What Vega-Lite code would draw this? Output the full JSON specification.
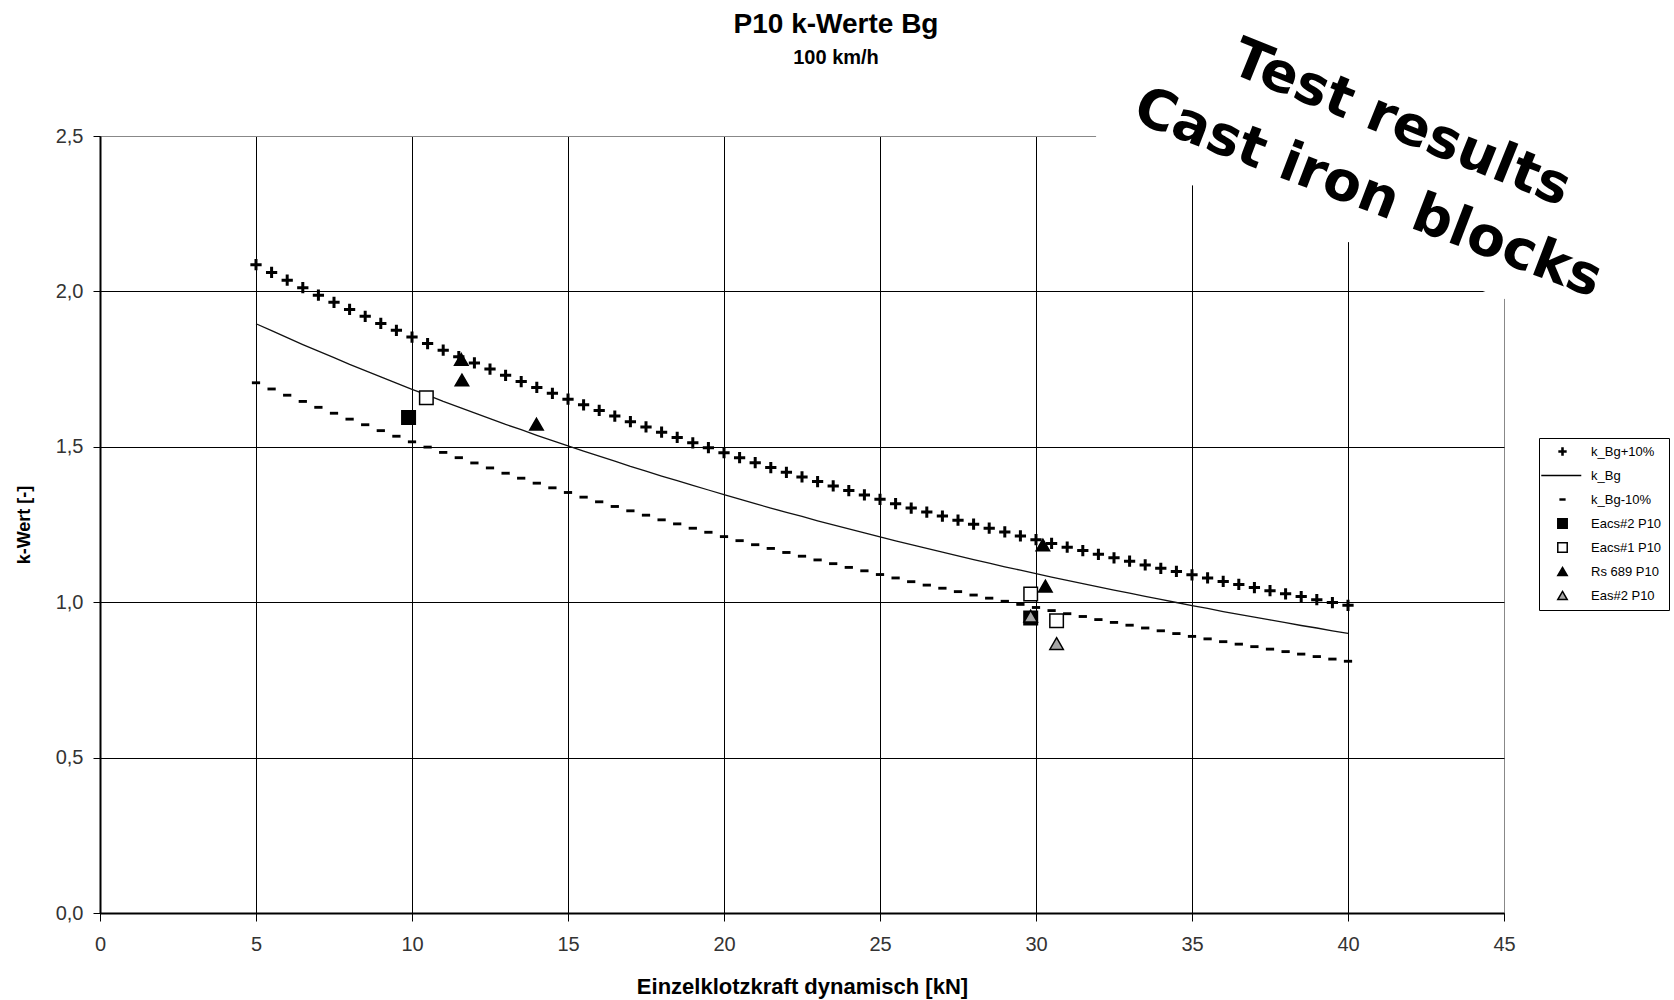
{
  "$schema": "https://vega.github.io/schema/vega-lite/v6.json",
  "width": 1404,
  "height": 777,
  "autosize": {"type": "none"},
  "padding": {"left": 100, "top": 136, "right": 170, "bottom": 87},
  "background": "white",
  "title": {
    "text": "P10 k-Werte Bg",
    "subtitle": "100 km/h",
    "font": "Liberation Sans",
    "fontSize": 28,
    "fontWeight": "bold",
    "color": "black",
    "subtitleFont": "Liberation Sans",
    "subtitleFontSize": 20,
    "subtitleFontWeight": "bold",
    "subtitleColor": "black",
    "subtitlePadding": 8.5,
    "anchor": "middle",
    "frame": "group",
    "dx": 34,
    "offset": -88
  },
  "config": {
    "view": {"stroke": "#888888", "strokeWidth": 1},
    "axisX": {
      "domainColor": "black", "domainWidth": 2, "tickColor": "black", "tickSize": 8, "tickWidth": 1,
      "labelFont": "Liberation Sans", "labelFontSize": 20, "labelColor": "#333333", "labelPadding": 13, "labelFlush": false,
      "titleFont": "Liberation Sans", "titleFontSize": 22, "titleFontWeight": "bold", "titleColor": "black", "titlePadding": 22,
      "gridWidth": 1, "gridOpacity": 1
    },
    "axisY": {
      "domainColor": "black", "domainWidth": 2, "tickColor": "black", "tickSize": 7, "tickWidth": 1,
      "labelFont": "Liberation Sans", "labelFontSize": 20, "labelColor": "#333333", "labelPadding": 10, "labelFlush": false,
      "titleFont": "Liberation Sans", "titleFontSize": 18, "titleFontWeight": "bold", "titleColor": "black", "titlePadding": 22,
      "gridWidth": 1, "gridOpacity": 1
    }
  },
  "datasets": {
    "curves": [
      {"s":"k_Bg","F":5,"k":1.896},{"s":"k_Bg","F":5.5,"k":1.874},{"s":"k_Bg","F":6,"k":1.851},{"s":"k_Bg","F":6.5,"k":1.829},{"s":"k_Bg","F":7,"k":1.808},{"s":"k_Bg","F":7.5,"k":1.787},{"s":"k_Bg","F":8,"k":1.765},{"s":"k_Bg","F":8.5,"k":1.745},{"s":"k_Bg","F":9,"k":1.725},{"s":"k_Bg","F":9.5,"k":1.705},
      {"s":"k_Bg","F":10,"k":1.685},{"s":"k_Bg","F":10.5,"k":1.666},{"s":"k_Bg","F":11,"k":1.646},{"s":"k_Bg","F":11.5,"k":1.628},{"s":"k_Bg","F":12,"k":1.609},{"s":"k_Bg","F":12.5,"k":1.591},{"s":"k_Bg","F":13,"k":1.572},{"s":"k_Bg","F":13.5,"k":1.555},{"s":"k_Bg","F":14,"k":1.537},{"s":"k_Bg","F":14.5,"k":1.520},
      {"s":"k_Bg","F":15,"k":1.503},{"s":"k_Bg","F":15.5,"k":1.486},{"s":"k_Bg","F":16,"k":1.470},{"s":"k_Bg","F":16.5,"k":1.454},{"s":"k_Bg","F":17,"k":1.437},{"s":"k_Bg","F":17.5,"k":1.422},{"s":"k_Bg","F":18,"k":1.406},{"s":"k_Bg","F":18.5,"k":1.391},{"s":"k_Bg","F":19,"k":1.376},{"s":"k_Bg","F":19.5,"k":1.361},
      {"s":"k_Bg","F":20,"k":1.346},{"s":"k_Bg","F":20.5,"k":1.332},{"s":"k_Bg","F":21,"k":1.317},{"s":"k_Bg","F":21.5,"k":1.303},{"s":"k_Bg","F":22,"k":1.289},{"s":"k_Bg","F":22.5,"k":1.276},{"s":"k_Bg","F":23,"k":1.262},{"s":"k_Bg","F":23.5,"k":1.249},{"s":"k_Bg","F":24,"k":1.236},{"s":"k_Bg","F":24.5,"k":1.223},
      {"s":"k_Bg","F":25,"k":1.210},{"s":"k_Bg","F":25.5,"k":1.197},{"s":"k_Bg","F":26,"k":1.185},{"s":"k_Bg","F":26.5,"k":1.173},{"s":"k_Bg","F":27,"k":1.161},{"s":"k_Bg","F":27.5,"k":1.149},{"s":"k_Bg","F":28,"k":1.137},{"s":"k_Bg","F":28.5,"k":1.126},{"s":"k_Bg","F":29,"k":1.114},{"s":"k_Bg","F":29.5,"k":1.103},
      {"s":"k_Bg","F":30,"k":1.092},{"s":"k_Bg","F":30.5,"k":1.081},{"s":"k_Bg","F":31,"k":1.070},{"s":"k_Bg","F":31.5,"k":1.060},{"s":"k_Bg","F":32,"k":1.049},{"s":"k_Bg","F":32.5,"k":1.039},{"s":"k_Bg","F":33,"k":1.029},{"s":"k_Bg","F":33.5,"k":1.019},{"s":"k_Bg","F":34,"k":1.009},{"s":"k_Bg","F":34.5,"k":0.999},
      {"s":"k_Bg","F":35,"k":0.989},{"s":"k_Bg","F":35.5,"k":0.980},{"s":"k_Bg","F":36,"k":0.970},{"s":"k_Bg","F":36.5,"k":0.961},{"s":"k_Bg","F":37,"k":0.952},{"s":"k_Bg","F":37.5,"k":0.943},{"s":"k_Bg","F":38,"k":0.934},{"s":"k_Bg","F":38.5,"k":0.925},{"s":"k_Bg","F":39,"k":0.917},{"s":"k_Bg","F":39.5,"k":0.908},
      {"s":"k_Bg","F":40,"k":0.900},
      {"s":"k_Bg+10%","F":5,"k":2.086},{"s":"k_Bg+10%","F":5.5,"k":2.061},{"s":"k_Bg+10%","F":6,"k":2.036},{"s":"k_Bg+10%","F":6.5,"k":2.012},{"s":"k_Bg+10%","F":7,"k":1.988},{"s":"k_Bg+10%","F":7.5,"k":1.965},{"s":"k_Bg+10%","F":8,"k":1.942},{"s":"k_Bg+10%","F":8.5,"k":1.920},{"s":"k_Bg+10%","F":9,"k":1.897},{"s":"k_Bg+10%","F":9.5,"k":1.875},
      {"s":"k_Bg+10%","F":10,"k":1.853},{"s":"k_Bg+10%","F":10.5,"k":1.832},{"s":"k_Bg+10%","F":11,"k":1.811},{"s":"k_Bg+10%","F":11.5,"k":1.790},{"s":"k_Bg+10%","F":12,"k":1.770},{"s":"k_Bg+10%","F":12.5,"k":1.750},{"s":"k_Bg+10%","F":13,"k":1.730},{"s":"k_Bg+10%","F":13.5,"k":1.710},{"s":"k_Bg+10%","F":14,"k":1.691},{"s":"k_Bg+10%","F":14.5,"k":1.672},
      {"s":"k_Bg+10%","F":15,"k":1.653},{"s":"k_Bg+10%","F":15.5,"k":1.635},{"s":"k_Bg+10%","F":16,"k":1.617},{"s":"k_Bg+10%","F":16.5,"k":1.599},{"s":"k_Bg+10%","F":17,"k":1.581},{"s":"k_Bg+10%","F":17.5,"k":1.564},{"s":"k_Bg+10%","F":18,"k":1.547},{"s":"k_Bg+10%","F":18.5,"k":1.530},{"s":"k_Bg+10%","F":19,"k":1.513},{"s":"k_Bg+10%","F":19.5,"k":1.497},
      {"s":"k_Bg+10%","F":20,"k":1.481},{"s":"k_Bg+10%","F":20.5,"k":1.465},{"s":"k_Bg+10%","F":21,"k":1.449},{"s":"k_Bg+10%","F":21.5,"k":1.433},{"s":"k_Bg+10%","F":22,"k":1.418},{"s":"k_Bg+10%","F":22.5,"k":1.403},{"s":"k_Bg+10%","F":23,"k":1.388},{"s":"k_Bg+10%","F":23.5,"k":1.374},{"s":"k_Bg+10%","F":24,"k":1.359},{"s":"k_Bg+10%","F":24.5,"k":1.345},
      {"s":"k_Bg+10%","F":25,"k":1.331},{"s":"k_Bg+10%","F":25.5,"k":1.317},{"s":"k_Bg+10%","F":26,"k":1.303},{"s":"k_Bg+10%","F":26.5,"k":1.290},{"s":"k_Bg+10%","F":27,"k":1.277},{"s":"k_Bg+10%","F":27.5,"k":1.264},{"s":"k_Bg+10%","F":28,"k":1.251},{"s":"k_Bg+10%","F":28.5,"k":1.238},{"s":"k_Bg+10%","F":29,"k":1.226},{"s":"k_Bg+10%","F":29.5,"k":1.213},
      {"s":"k_Bg+10%","F":30,"k":1.201},{"s":"k_Bg+10%","F":30.5,"k":1.189},{"s":"k_Bg+10%","F":31,"k":1.177},{"s":"k_Bg+10%","F":31.5,"k":1.166},{"s":"k_Bg+10%","F":32,"k":1.154},{"s":"k_Bg+10%","F":32.5,"k":1.143},{"s":"k_Bg+10%","F":33,"k":1.132},{"s":"k_Bg+10%","F":33.5,"k":1.120},{"s":"k_Bg+10%","F":34,"k":1.109},{"s":"k_Bg+10%","F":34.5,"k":1.099},
      {"s":"k_Bg+10%","F":35,"k":1.088},{"s":"k_Bg+10%","F":35.5,"k":1.078},{"s":"k_Bg+10%","F":36,"k":1.067},{"s":"k_Bg+10%","F":36.5,"k":1.057},{"s":"k_Bg+10%","F":37,"k":1.047},{"s":"k_Bg+10%","F":37.5,"k":1.037},{"s":"k_Bg+10%","F":38,"k":1.027},{"s":"k_Bg+10%","F":38.5,"k":1.018},{"s":"k_Bg+10%","F":39,"k":1.008},{"s":"k_Bg+10%","F":39.5,"k":0.999},
      {"s":"k_Bg+10%","F":40,"k":0.990},
      {"s":"k_Bg-10%","F":5,"k":1.706},{"s":"k_Bg-10%","F":5.5,"k":1.686},{"s":"k_Bg-10%","F":6,"k":1.666},{"s":"k_Bg-10%","F":6.5,"k":1.646},{"s":"k_Bg-10%","F":7,"k":1.627},{"s":"k_Bg-10%","F":7.5,"k":1.608},{"s":"k_Bg-10%","F":8,"k":1.589},{"s":"k_Bg-10%","F":8.5,"k":1.571},{"s":"k_Bg-10%","F":9,"k":1.552},{"s":"k_Bg-10%","F":9.5,"k":1.534},
      {"s":"k_Bg-10%","F":10,"k":1.516},{"s":"k_Bg-10%","F":10.5,"k":1.499},{"s":"k_Bg-10%","F":11,"k":1.482},{"s":"k_Bg-10%","F":11.5,"k":1.465},{"s":"k_Bg-10%","F":12,"k":1.448},{"s":"k_Bg-10%","F":12.5,"k":1.432},{"s":"k_Bg-10%","F":13,"k":1.415},{"s":"k_Bg-10%","F":13.5,"k":1.399},{"s":"k_Bg-10%","F":14,"k":1.383},{"s":"k_Bg-10%","F":14.5,"k":1.368},
      {"s":"k_Bg-10%","F":15,"k":1.353},{"s":"k_Bg-10%","F":15.5,"k":1.338},{"s":"k_Bg-10%","F":16,"k":1.323},{"s":"k_Bg-10%","F":16.5,"k":1.308},{"s":"k_Bg-10%","F":17,"k":1.294},{"s":"k_Bg-10%","F":17.5,"k":1.280},{"s":"k_Bg-10%","F":18,"k":1.265},{"s":"k_Bg-10%","F":18.5,"k":1.252},{"s":"k_Bg-10%","F":19,"k":1.238},{"s":"k_Bg-10%","F":19.5,"k":1.225},
      {"s":"k_Bg-10%","F":20,"k":1.211},{"s":"k_Bg-10%","F":20.5,"k":1.198},{"s":"k_Bg-10%","F":21,"k":1.185},{"s":"k_Bg-10%","F":21.5,"k":1.173},{"s":"k_Bg-10%","F":22,"k":1.160},{"s":"k_Bg-10%","F":22.5,"k":1.148},{"s":"k_Bg-10%","F":23,"k":1.136},{"s":"k_Bg-10%","F":23.5,"k":1.124},{"s":"k_Bg-10%","F":24,"k":1.112},{"s":"k_Bg-10%","F":24.5,"k":1.101},
      {"s":"k_Bg-10%","F":25,"k":1.089},{"s":"k_Bg-10%","F":25.5,"k":1.078},{"s":"k_Bg-10%","F":26,"k":1.066},{"s":"k_Bg-10%","F":26.5,"k":1.055},{"s":"k_Bg-10%","F":27,"k":1.045},{"s":"k_Bg-10%","F":27.5,"k":1.034},{"s":"k_Bg-10%","F":28,"k":1.023},{"s":"k_Bg-10%","F":28.5,"k":1.013},{"s":"k_Bg-10%","F":29,"k":1.003},{"s":"k_Bg-10%","F":29.5,"k":0.993},
      {"s":"k_Bg-10%","F":30,"k":0.983},{"s":"k_Bg-10%","F":30.5,"k":0.973},{"s":"k_Bg-10%","F":31,"k":0.963},{"s":"k_Bg-10%","F":31.5,"k":0.954},{"s":"k_Bg-10%","F":32,"k":0.944},{"s":"k_Bg-10%","F":32.5,"k":0.935},{"s":"k_Bg-10%","F":33,"k":0.926},{"s":"k_Bg-10%","F":33.5,"k":0.917},{"s":"k_Bg-10%","F":34,"k":0.908},{"s":"k_Bg-10%","F":34.5,"k":0.899},
      {"s":"k_Bg-10%","F":35,"k":0.890},{"s":"k_Bg-10%","F":35.5,"k":0.882},{"s":"k_Bg-10%","F":36,"k":0.873},{"s":"k_Bg-10%","F":36.5,"k":0.865},{"s":"k_Bg-10%","F":37,"k":0.857},{"s":"k_Bg-10%","F":37.5,"k":0.849},{"s":"k_Bg-10%","F":38,"k":0.841},{"s":"k_Bg-10%","F":38.5,"k":0.833},{"s":"k_Bg-10%","F":39,"k":0.825},{"s":"k_Bg-10%","F":39.5,"k":0.817},
      {"s":"k_Bg-10%","F":40,"k":0.810}
    ],
    "tests": [
      {"s":"Eacs#1 P10","F":10.46,"k":1.658},
      {"s":"Eacs#1 P10","F":29.83,"k":1.026},
      {"s":"Eacs#1 P10","F":30.66,"k":0.940},
      {"s":"Eacs#2 P10","F":9.89,"k":1.594},
      {"s":"Eacs#2 P10","F":29.83,"k":0.949},
      {"s":"Rs 689 P10","F":11.58,"k":1.781},
      {"s":"Rs 689 P10","F":11.6,"k":1.715},
      {"s":"Rs 689 P10","F":13.99,"k":1.573},
      {"s":"Rs 689 P10","F":30.22,"k":1.184},
      {"s":"Rs 689 P10","F":30.3,"k":1.052},
      {"s":"Eas#2 P10","F":29.83,"k":0.955},
      {"s":"Eas#2 P10","F":30.66,"k":0.867}
    ],
    "note": [{"n": 1}]
  },
  "layer": [
    {
      "data": {"name": "curves"},
      "transform": [{"filter": "datum.s === 'k_Bg'"}],
      "mark": {"type": "line", "color": "#111111", "strokeWidth": 1.3},
      "encoding": {
        "x": {"field": "F", "type": "quantitative", "title": "Einzelklotzkraft dynamisch [kN]",
              "scale": {"domain": [0, 45], "nice": false, "zero": false},
              "axis": {"values": [0,5,10,15,20,25,30,35,40,45], "grid": true,
                       "gridColor": {"condition": {"test": "datum.value === 45", "value": "#888888"}, "value": "black"}}},
        "y": {"field": "k", "type": "quantitative", "title": "k-Wert [-]",
              "scale": {"domain": [0, 2.5], "nice": false},
              "axis": {"values": [0,0.5,1,1.5,2,2.5], "grid": true,
                       "labelExpr": "replace(format(datum.value, '.1f'), '.', ',')",
                       "gridColor": {"condition": {"test": "datum.value === 2.5", "value": "#888888"}, "value": "black"}}}
      }
    },
    {
      "data": {"name": "curves"},
      "transform": [{"filter": "datum.s !== 'k_Bg'"}],
      "mark": {"type": "point", "filled": true, "stroke": "black", "strokeWidth": 1.5, "size": 225, "opacity": 1},
      "encoding": {
        "x": {"field": "F", "type": "quantitative", "title": "Einzelklotzkraft dynamisch [kN]"},
        "y": {"field": "k", "type": "quantitative", "title": "k-Wert [-]"},
        "shape": {"field": "s", "type": "nominal",
                  "scale": {"domain": ["k_Bg+10%","k_Bg","k_Bg-10%","Eacs#2 P10","Eacs#1 P10","Rs 689 P10","Eas#2 P10"],
                            "range": ["M-0.65,-0.1H0.65V0.1H-0.65Z M-0.1,-0.65H0.1V0.65H-0.1Z","M-4.05,0H3.58","M-0.45,-0.09H0.45V0.09H-0.45Z","M-0.9,-0.9H0.9V0.9H-0.9Z","M-0.9,-0.9H0.9V0.9H-0.9Z","M0,-0.78L0.9,0.78L-0.9,0.78Z","M0,-0.78L0.9,0.78L-0.9,0.78Z"]},
                  "legend": {"title": null, "orient": "none", "legendX": 1439, "legendY": 302,
                             "padding": 7, "symbolOffset": 10, "fillColor": "white", "strokeColor": "black",
                             "labelFont": "Liberation Sans", "labelFontSize": 13, "labelColor": "black", "gridAlign": "all",
                             "symbolSize": 110, "symbolStrokeWidth": 1.5, "rowPadding": 7, "labelOffset": 22}},
        "fill": {"field": "s", "type": "nominal",
                 "scale": {"domain": ["k_Bg+10%","k_Bg","k_Bg-10%","Eacs#2 P10","Eacs#1 P10","Rs 689 P10","Eas#2 P10"],
                           "range": ["black","black","black","black","white","black","#a6a6a6"]},
                 "legend": {"title": null, "orient": "none", "legendX": 1439, "legendY": 302,
                            "padding": 7, "symbolOffset": 10, "fillColor": "white", "strokeColor": "black",
                            "labelFont": "Liberation Sans", "labelFontSize": 13, "labelColor": "black", "gridAlign": "all",
                            "symbolSize": 110, "symbolStrokeWidth": 1.5, "rowPadding": 7, "labelOffset": 22}}
      }
    },
    {
      "data": {"name": "tests"},
      "mark": {"type": "point", "filled": true, "stroke": "black", "strokeWidth": 1.5, "size": 225, "opacity": 1},
      "encoding": {
        "x": {"field": "F", "type": "quantitative", "title": "Einzelklotzkraft dynamisch [kN]"},
        "y": {"field": "k", "type": "quantitative", "title": "k-Wert [-]"},
        "shape": {"field": "s", "type": "nominal"},
        "fill": {"field": "s", "type": "nominal"}
      }
    },
    {
      "data": {"name": "note"},
      "mark": {"type": "point", "shape": "M-0.966,-0.31H1V0.31H-0.966Z", "size": 336400, "angle": 20,
               "filled": true, "fill": "white", "strokeWidth": 0, "opacity": 1, "clip": false},
      "encoding": {
        "x": {"datum": 41.205, "type": "quantitative", "title": "Einzelklotzkraft dynamisch [kN]"},
        "y": {"datum": 2.4228, "type": "quantitative", "title": "k-Wert [-]"}
      }
    },
    {
      "data": {"name": "note"},
      "mark": {"type": "text", "text": "Test results", "font": "DejaVu Sans", "fontWeight": "bold", "fontSize": 55,
               "angle": 22, "align": "center", "baseline": "alphabetic", "color": "black"},
      "encoding": {
        "x": {"datum": 41.5, "type": "quantitative", "title": "Einzelklotzkraft dynamisch [kN]"},
        "y": {"datum": 2.49, "type": "quantitative", "title": "k-Wert [-]"}
      }
    },
    {
      "data": {"name": "note"},
      "mark": {"type": "text", "text": "Cast iron blocks", "font": "DejaVu Sans", "fontWeight": "bold", "fontSize": 55,
               "angle": 21, "align": "center", "baseline": "alphabetic", "color": "black"},
      "encoding": {
        "x": {"datum": 40.45, "type": "quantitative", "title": "Einzelklotzkraft dynamisch [kN]"},
        "y": {"datum": 2.265, "type": "quantitative", "title": "k-Wert [-]"}
      }
    }
  ]
}
